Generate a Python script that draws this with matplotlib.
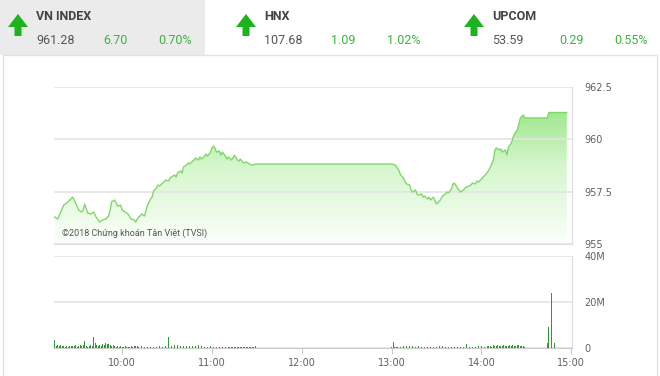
import numpy as np
import matplotlib
matplotlib.use("Agg")
import matplotlib.pyplot as plt
from matplotlib.patches import Rectangle, Polygon
from matplotlib.colors import LinearSegmentedColormap

# header quotes
index_names = ["VN INDEX", "HNX", "UPCOM"]
index_values = ["961.28", "107.68", "53.59"]
index_changes = ["6.70", "1.09", "0.29"]
index_pcts = ["0.70%", "1.02%", "0.55%"]

# intraday VN-Index, time in minutes after 9:00
price_times = [15, 17, 19, 21, 23, 25, 27, 28, 29, 31, 33, 34, 35, 37, 39, 41, 43, 45, 47, 49,
               51, 52, 53, 55, 56, 57, 59, 60, 62, 64, 66, 68, 69, 71, 72, 73, 75, 76, 77, 79,
               80, 81, 83, 84, 85, 87, 88, 89, 91, 92, 93, 95, 96, 97, 99, 100, 101, 103, 104, 105,
               107, 108, 109, 111, 112, 113, 115, 116, 117, 119, 120, 121, 122, 123, 125, 126, 127, 129, 130, 131,
               133, 134, 135, 137, 138, 139, 141, 143, 145, 147, 149, 150, 240,
               241, 243, 245, 246, 248, 249, 250, 252, 253, 254, 256, 257, 258, 260, 261, 262, 264, 265, 266, 268,
               269, 270, 272, 273, 274, 276, 277, 278, 280, 281, 282, 284, 285, 286, 288, 289, 290, 292, 293, 294,
               296, 297, 298, 300, 301, 302, 304, 305, 306, 308, 309, 310, 312, 313, 314, 316, 317, 318, 320, 321,
               322, 324, 325, 326, 328, 329, 330, 344, 345, 357]
price_values = [956.29, 956.19, 956.53, 956.86, 956.96, 957.10, 957.24, 957.10, 956.96, 956.62,
                956.53, 956.62, 956.91, 956.48, 956.43, 956.53, 956.24, 956.05, 956.15, 956.19,
                956.34, 956.62, 957.01, 957.10, 956.96, 956.81, 956.86, 956.62, 956.53, 956.43,
                956.19, 956.15, 956.05, 956.29, 956.34, 956.43, 956.34, 956.62, 956.86, 957.15,
                957.24, 957.53, 957.67, 957.82, 957.77, 957.91, 957.96, 958.06, 958.01, 958.15,
                958.20, 958.30, 958.20, 958.39, 958.49, 958.39, 958.68, 958.77, 958.87, 958.82,
                958.96, 959.01, 959.11, 959.01, 959.16, 959.06, 959.20, 959.30, 959.20, 959.39,
                959.59, 959.68, 959.59, 959.39, 959.44, 959.25, 959.39, 959.20, 959.06, 959.16,
                959.01, 959.11, 959.25, 959.01, 958.96, 959.06, 958.87, 958.92, 958.82, 958.77,
                958.82, 958.82, 958.82,
                958.82, 958.73, 958.49, 958.30, 958.15, 957.96, 957.87, 957.82, 957.58, 957.48,
                957.58, 957.39, 957.34, 957.39, 957.24, 957.29, 957.15, 957.24, 957.10, 957.24,
                957.05, 956.91, 957.05, 957.15, 957.29, 957.39, 957.48, 957.44, 957.63, 957.87,
                957.91, 957.67, 957.58, 957.48, 957.58, 957.67, 957.72, 957.77, 957.82, 957.91,
                957.87, 958.01, 957.96, 958.10, 958.20, 958.25, 958.44, 958.53, 958.68, 959.01,
                959.49, 959.59, 959.49, 959.54, 959.39, 959.49, 959.25, 959.63, 959.82, 960.06,
                960.25, 960.45, 960.73, 961.02, 961.16, 961.02, 961.02, 961.02, 961.28, 961.28]

# volume per minute (millions), morning session from 9:15, afternoon from 13:00
vol_am = [3.5, 0.8, 1.2, 0.9, 1.1, 0.7, 1.0, 0.6, 0.8, 0.5, 0.9, 0.7, 1.0, 0.8, 1.3, 0.6, 0.9, 1.1, 0.7, 1.2,
          3.0, 0.8, 0.6, 1.0, 1.4, 0.9, 5.0, 2.0, 1.1, 0.7, 1.5, 0.9, 1.8, 1.3, 2.0, 1.6, 1.8, 1.2, 0.9, 1.1,
          0.8, 0.6, 0.9, 0.5, 0.7, 0.4, 0.6, 1.0, 0.5, 0.3, 0.6, 0.8, 0.5, 0.9, 0.7, 1.0, 0.6, 1.1, 0.8, 1.3,
          0.5, 1.4, 0.6, 0.4, 0.3, 0.5, 0.4, 0.6, 0.3, 0.5, 0.8, 0.4, 0.6, 0.5, 0.7, 0.4, 4.8, 0.6, 0.9, 0.5,
          1.1, 0.7, 1.2, 0.6, 0.8, 0.5, 0.9, 0.6, 0.7, 1.0, 0.8, 1.4, 0.9, 1.2, 0.7, 0.9, 1.1, 0.6, 0.8, 0.5,
          0.4, 0.6, 0.5, 0.3, 0.7, 0.4, 0.5, 0.6, 0.4, 0.8, 0.5, 0.6, 0.4, 0.5, 0.3, 0.6, 0.5, 0.4, 0.6, 0.3,
          0.5, 0.4, 0.3, 0.6, 0.4, 0.5, 0.3, 0.4, 0.6, 0.3, 0.4, 0.5, 0.3, 0.4, 0.7]
vol_pm = [0.3, 2.6, 0.5, 0.4, 0.6, 0.3, 0.5, 0.4, 0.7, 0.5, 0.9, 0.6, 0.8, 0.4, 1.0, 0.6, 0.5, 1.1, 0.7, 0.9,
          0.6, 0.4, 0.5, 0.3, 0.4, 0.6, 0.3, 0.5, 0.4, 0.6, 0.3, 0.5, 0.7, 0.4, 0.8, 0.5, 0.6, 0.9, 0.5, 0.7,
          0.4, 0.8, 0.5, 0.6, 0.4, 0.3, 0.5, 0.4, 0.6, 0.7, 1.7, 0.5, 0.4, 0.6, 0.3, 0.5, 0.4, 0.6, 0.8, 0.5,
          0.7, 0.9, 0.6, 1.1, 0.7, 0.9, 1.0, 0.6, 1.2, 0.8, 0.9, 1.1, 0.7, 1.0, 0.8, 1.2, 0.9, 1.0, 0.7, 1.1,
          0.9, 1.2, 1.0, 0.8, 1.1, 1.3, 0.9, 1.0, 0.8, 0.6]
atc_times = [344, 345, 347, 349]
atc_vols = [2.0, 9.0, 24.0, 2.3]

time_ticks = [60, 120, 180, 240, 300, 360]
time_labels = ["10:00", "11:00", "12:00", "13:00", "14:00", "15:00"]
price_ticks = [955, 957.5, 960, 962.5]
price_labels = ["955", "957.5", "960", "962.5"]
vol_ticks = [0, 20, 40]
vol_labels = ["0", "20M", "40M"]

W, H = 660, 376
fig = plt.figure(figsize=(W / 100, H / 100), dpi=100)
fig.patch.set_facecolor("white")


def fx(px):
    return px / W


def fy(py):
    return 1 - py / H


# header / frame
fig.add_artist(Rectangle((0, fy(55)), fx(205), 55 / H, transform=fig.transFigure,
                         facecolor="#ebebeb", edgecolor="none", zorder=0))
fig.add_artist(Rectangle((fx(3), -0.01), fx(654), fy(55) + 0.01, transform=fig.transFigure,
                         facecolor="none", edgecolor="#e2e2e2", lw=1, zorder=0))

head_font = ["Liberation Sans Narrow", "Roboto", "DejaVu Sans"]
green = "#3cb43c"
cols = [0, 228, 456]
for i, x0 in enumerate(cols):
    cx = x0 + 18
    arrow = [(cx - 10, 27), (cx, 14), (cx + 10, 27), (cx + 3.5, 27), (cx + 3.5, 36),
             (cx - 3.5, 36), (cx - 3.5, 27)]
    fig.add_artist(Polygon([(fx(a), fy(b)) for a, b in arrow], closed=True,
                           transform=fig.transFigure, facecolor="#1db31d", edgecolor="none"))
    fig.text(fx(x0 + 36), fy(16), index_names[i], fontsize=9, fontweight="bold",
             color="#444444", family=head_font, va="center")
    fig.text(fx(x0 + 36), fy(40), index_values[i], fontsize=9, color="#555555",
             family=head_font, va="center")
    fig.text(fx(x0 + 103), fy(40), index_changes[i], fontsize=9, color=green,
             family=head_font, va="center")
    fig.text(fx(x0 + 192), fy(40), index_pcts[i], fontsize=9, color=green,
             family=head_font, va="center", ha="right")

# price panel
ax = fig.add_axes([fx(54), fy(244), fx(518), (244 - 87) / H])
xmin, xmax = 14.5, 360.5
grad = np.linspace(0, 1, 256).reshape(-1, 1)
cmap = LinearSegmentedColormap.from_list("g", ["#fbfffa", "#d6f6cd", "#86e070"])
im = ax.imshow(grad, extent=[xmin, xmax, 955, 962.5], origin="lower", aspect="auto",
               cmap=cmap, zorder=1)
verts = [(price_times[0], 955)] + list(zip(price_times, price_values)) + [(price_times[-1], 955)]
clip = Polygon(verts, closed=True, facecolor="none", edgecolor="none")
ax.add_patch(clip)
im.set_clip_path(clip)
ax.plot(price_times, price_values, color="#7fd86a", lw=1, zorder=3)
ax.set_xlim(xmin, xmax)
ax.set_ylim(955, 962.5)
ax.set_yticks(price_ticks)
ax.set_yticklabels(price_labels)
ax.set_xticks([])
ax.yaxis.tick_right()
ax.tick_params(axis="y", length=0, pad=9, labelsize=7, labelcolor="#606060")
ax.grid(axis="y", color="#e4e4e4", lw=1.2, zorder=0)
for s in ["left", "top"]:
    ax.spines[s].set_visible(False)
for s in ["right", "bottom"]:
    ax.spines[s].set_color("#dddddd")
ax.text(0.016, 0.05, "©2018 Chứng khoán Tân Việt (TVSI)", transform=ax.transAxes,
        fontsize=6.5, color="#555555", family=["Roboto", "DejaVu Sans"], zorder=4)

# volume panel
axv = fig.add_axes([fx(54), fy(348), fx(518), (348 - 256) / H])
t_am = np.arange(15, 15 + len(vol_am))
t_pm = np.arange(240, 240 + len(vol_pm))
axv.bar(t_am, vol_am, width=0.55, color="#2f9a2f", zorder=3)
axv.bar(t_pm, vol_pm, width=0.55, color="#2f9a2f", zorder=3)
axv.bar(atc_times, atc_vols, width=0.6, color="#2f9a2f", zorder=3)
axv.set_xlim(xmin, xmax)
axv.set_ylim(0, 40)
axv.set_yticks(vol_ticks)
axv.set_yticklabels(vol_labels)
axv.yaxis.tick_right()
axv.tick_params(axis="y", length=0, pad=9, labelsize=7, labelcolor="#606060")
axv.set_xticks(time_ticks)
axv.set_xticklabels(time_labels)
axv.tick_params(axis="x", length=4, color="#cccccc", pad=3, labelsize=7, labelcolor="#606060")
axv.grid(axis="y", color="#e4e4e4", lw=1.2, zorder=0)
axv.spines["left"].set_visible(False)
axv.spines["top"].set_visible(False)
axv.spines["right"].set_color("#dddddd")
axv.spines["bottom"].set_color("#cccccc")

fig.savefig("out.png", dpi=100)
